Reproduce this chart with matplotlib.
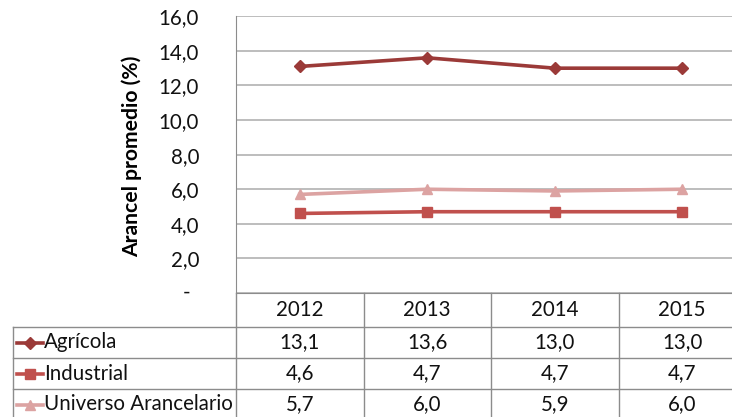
import matplotlib.pyplot as plt
from matplotlib.lines import Line2D
from matplotlib.transforms import blended_transform_factory
from matplotlib.ticker import FuncFormatter

# data
years = ['2012', '2013', '2014', '2015']
agricola = [13.1, 13.6, 13.0, 13.0]
industrial = [4.6, 4.7, 4.7, 4.7]
universo = [5.7, 6.0, 5.9, 6.0]
names = ['Agrícola', 'Industrial', 'Universo Arancelario']
yticks = [0, 2, 4, 6, 8, 10, 12, 14, 16]

colors = ['#9b3a38', '#c0504d', '#dca3a2']
markers = ['D', 's', '^']
msizes = [6.5, 7.5, 7.5]

plt.rcParams['font.family'] = ['Lato', 'DejaVu Sans']
FS = 14.8

W, H = 732, 417
fig = plt.figure(figsize=(W / 100, H / 100), dpi=100)


def fx(px):
    return px / W


def fy(py):
    return 1 - py / H


# plot area runs past the right edge (the original was cropped)
ax = fig.add_axes([fx(236), fy(293), fx(746) - fx(236), fy(16.3) - fy(293)])
x = list(range(len(years)))
for vals, c, m, ms in zip([agricola, industrial, universo], colors, markers, msizes):
    ax.plot(x, vals, color=c, lw=2.6, marker=m, ms=ms, clip_on=False, zorder=3)

ax.set_xlim(-0.5, len(years) - 0.5)
ax.set_ylim(0, 16)
ax.set_yticks(yticks)
ax.yaxis.set_major_formatter(FuncFormatter(
    lambda v, p: '' if v == 0 else f'{v:.1f}'.replace('.', ',')))
ax.tick_params(axis='y', length=0, pad=26.5, labelsize=FS, labelcolor='#111111')
ax.set_xticks([])
ax.yaxis.grid(True, color='#b8b8b8', lw=1.3)
ax.set_axisbelow(True)
for s in ['top', 'right']:
    ax.spines[s].set_visible(False)
ax.spines['left'].set_color('#8c8c8c')
ax.spines['bottom'].set_color('#8c8c8c')
ax.annotate('-', xy=(0, 0), xycoords=('axes fraction', 'data'),
            xytext=(-35.5, 0), textcoords='offset points',
            ha='center', va='center', fontsize=FS, color='#111111')

fig.text(fx(132), fy(156), 'Arancel promedio (%)', rotation=90,
         fontweight='bold', fontsize=15.2, ha='center', va='center')

# data table under the chart
tcol = blended_transform_factory(ax.transData, fig.transFigure)
gcol = '#8c8c8c'
row_edges = [293, 327, 358, 389, 420]

for i in range(len(years) + 1):
    fig.add_artist(Line2D([i - 0.5, i - 0.5], [fy(293), fy(420)],
                          transform=tcol, color=gcol, lw=1))
for py in row_edges[1:]:
    fig.add_artist(Line2D([fx(13), fx(746)], [fy(py), fy(py)],
                          transform=fig.transFigure, color=gcol, lw=1))
fig.add_artist(Line2D([fx(13), fx(13)], [fy(327), fy(420)],
                      transform=fig.transFigure, color=gcol, lw=1))

hy = (row_edges[0] + row_edges[1]) / 2
for i, yr in enumerate(years):
    fig.text(i, fy(hy), yr, transform=tcol, ha='center', va='center',
             fontsize=FS, color='#111111')

for r, (name, vals) in enumerate(zip(names, [agricola, industrial, universo])):
    cy = (row_edges[r + 1] + row_edges[r + 2]) / 2
    fig.add_artist(Line2D([fx(17), fx(43)], [fy(cy), fy(cy)], transform=fig.transFigure,
                          color=colors[r], lw=2.6))
    fig.add_artist(Line2D([fx(30)], [fy(cy)], transform=fig.transFigure,
                          color=colors[r], marker=markers[r], ms=msizes[r], lw=0))
    fig.text(fx(44), fy(cy), name, ha='left', va='center', fontsize=FS, color='#111111')
    for i, v in enumerate(vals):
        fig.text(i, fy(cy), f'{v:.1f}'.replace('.', ','), transform=tcol,
                 ha='center', va='center', fontsize=FS, color='#111111')

fig.savefig('out.png', dpi=100)
